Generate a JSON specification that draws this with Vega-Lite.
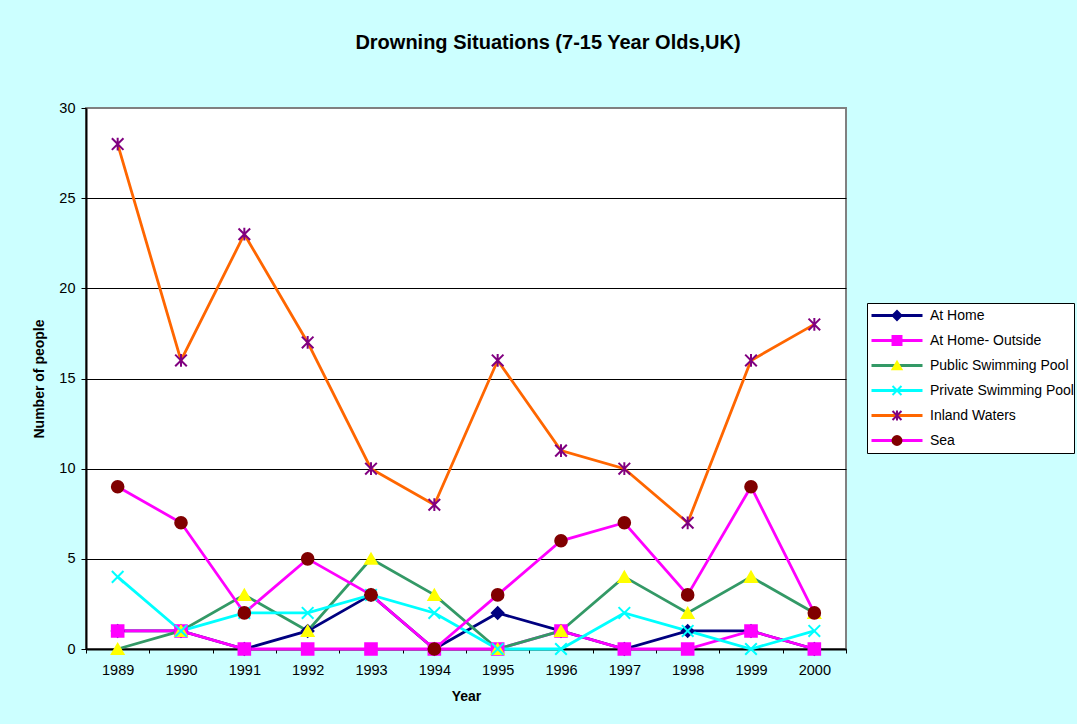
{
  "$schema": "https://vega.github.io/schema/vega-lite/v6.json",
  "autosize": {"type": "none"},
  "width": 760,
  "height": 541,
  "padding": {"left": 86, "top": 108, "right": 231, "bottom": 75},
  "background": "#CCFFFF",
  "title": {
    "text": "Drowning Situations (7-15 Year Olds,UK)",
    "font": "Liberation Sans",
    "fontSize": 20,
    "fontWeight": "bold",
    "color": "#000000",
    "anchor": "middle",
    "frame": "group",
    "dx": 82,
    "offset": 47
  },
  "config": {
    "font": "Liberation Sans",
    "view": {"fill": "#FFFFFF", "stroke": "#808080", "strokeWidth": 2},
    "legend": {"strokeWidth": 1}
  },
  "data": {
    "values": [
      {"year": "1989", "series": "At Home", "value": 1},
      {"year": "1990", "series": "At Home", "value": 1},
      {"year": "1991", "series": "At Home", "value": 0},
      {"year": "1992", "series": "At Home", "value": 1},
      {"year": "1993", "series": "At Home", "value": 3},
      {"year": "1994", "series": "At Home", "value": 0},
      {"year": "1995", "series": "At Home", "value": 2},
      {"year": "1996", "series": "At Home", "value": 1},
      {"year": "1997", "series": "At Home", "value": 0},
      {"year": "1998", "series": "At Home", "value": 1},
      {"year": "1999", "series": "At Home", "value": 1},
      {"year": "2000", "series": "At Home", "value": 0},
      {"year": "1989", "series": "At Home- Outside", "value": 1},
      {"year": "1990", "series": "At Home- Outside", "value": 1},
      {"year": "1991", "series": "At Home- Outside", "value": 0},
      {"year": "1992", "series": "At Home- Outside", "value": 0},
      {"year": "1993", "series": "At Home- Outside", "value": 0},
      {"year": "1994", "series": "At Home- Outside", "value": 0},
      {"year": "1995", "series": "At Home- Outside", "value": 0},
      {"year": "1996", "series": "At Home- Outside", "value": 1},
      {"year": "1997", "series": "At Home- Outside", "value": 0},
      {"year": "1998", "series": "At Home- Outside", "value": 0},
      {"year": "1999", "series": "At Home- Outside", "value": 1},
      {"year": "2000", "series": "At Home- Outside", "value": 0},
      {"year": "1989", "series": "Public Swimming Pool", "value": 0},
      {"year": "1990", "series": "Public Swimming Pool", "value": 1},
      {"year": "1991", "series": "Public Swimming Pool", "value": 3},
      {"year": "1992", "series": "Public Swimming Pool", "value": 1},
      {"year": "1993", "series": "Public Swimming Pool", "value": 5},
      {"year": "1994", "series": "Public Swimming Pool", "value": 3},
      {"year": "1995", "series": "Public Swimming Pool", "value": 0},
      {"year": "1996", "series": "Public Swimming Pool", "value": 1},
      {"year": "1997", "series": "Public Swimming Pool", "value": 4},
      {"year": "1998", "series": "Public Swimming Pool", "value": 2},
      {"year": "1999", "series": "Public Swimming Pool", "value": 4},
      {"year": "2000", "series": "Public Swimming Pool", "value": 2},
      {"year": "1989", "series": "Private Swimming Pool", "value": 4},
      {"year": "1990", "series": "Private Swimming Pool", "value": 1},
      {"year": "1991", "series": "Private Swimming Pool", "value": 2},
      {"year": "1992", "series": "Private Swimming Pool", "value": 2},
      {"year": "1993", "series": "Private Swimming Pool", "value": 3},
      {"year": "1994", "series": "Private Swimming Pool", "value": 2},
      {"year": "1995", "series": "Private Swimming Pool", "value": 0},
      {"year": "1996", "series": "Private Swimming Pool", "value": 0},
      {"year": "1997", "series": "Private Swimming Pool", "value": 2},
      {"year": "1998", "series": "Private Swimming Pool", "value": 1},
      {"year": "1999", "series": "Private Swimming Pool", "value": 0},
      {"year": "2000", "series": "Private Swimming Pool", "value": 1},
      {"year": "1989", "series": "Inland Waters", "value": 28},
      {"year": "1990", "series": "Inland Waters", "value": 16},
      {"year": "1991", "series": "Inland Waters", "value": 23},
      {"year": "1992", "series": "Inland Waters", "value": 17},
      {"year": "1993", "series": "Inland Waters", "value": 10},
      {"year": "1994", "series": "Inland Waters", "value": 8},
      {"year": "1995", "series": "Inland Waters", "value": 16},
      {"year": "1996", "series": "Inland Waters", "value": 11},
      {"year": "1997", "series": "Inland Waters", "value": 10},
      {"year": "1998", "series": "Inland Waters", "value": 7},
      {"year": "1999", "series": "Inland Waters", "value": 16},
      {"year": "2000", "series": "Inland Waters", "value": 18},
      {"year": "1989", "series": "Sea", "value": 9},
      {"year": "1990", "series": "Sea", "value": 7},
      {"year": "1991", "series": "Sea", "value": 2},
      {"year": "1992", "series": "Sea", "value": 5},
      {"year": "1993", "series": "Sea", "value": 3},
      {"year": "1994", "series": "Sea", "value": 0},
      {"year": "1995", "series": "Sea", "value": 3},
      {"year": "1996", "series": "Sea", "value": 6},
      {"year": "1997", "series": "Sea", "value": 7},
      {"year": "1998", "series": "Sea", "value": 3},
      {"year": "1999", "series": "Sea", "value": 9},
      {"year": "2000", "series": "Sea", "value": 2}
    ]
  },
  "encoding": {
    "x": {
      "field": "year",
      "type": "ordinal",
      "bandPosition": 0.5,
      "scale": {"type": "band", "paddingInner": 0, "paddingOuter": 0},
      "axis": {
        "title": "Year",
        "titleFont": "Liberation Sans",
        "titleFontSize": 14,
        "titleFontWeight": "bold",
        "titleColor": "#000000",
        "titlePadding": 13,
        "labelAngle": 0,
        "labelFont": "Liberation Sans",
        "labelFontSize": 14.5,
        "labelColor": "#000000",
        "labelPadding": 10,
        "tickBand": "extent",
        "tickSize": 4,
        "tickColor": "#000000",
        "domainColor": "#000000",
        "domainWidth": 2,
        "grid": false
      }
    },
    "y": {
      "field": "value",
      "type": "quantitative",
      "scale": {"domain": [0, 30], "nice": false},
      "axis": {
        "title": "Number of people",
        "titleFont": "Liberation Sans",
        "titleFontSize": 14,
        "titleFontWeight": "bold",
        "titleColor": "#000000",
        "titlePadding": 12,
        "values": [0, 5, 10, 15, 20, 25, 30],
        "labelFont": "Liberation Sans",
        "labelFontSize": 14.5,
        "labelColor": "#000000",
        "labelPadding": 6,
        "tickSize": 5,
        "tickColor": "#000000",
        "domainColor": "#000000",
        "domainWidth": 2,
        "grid": true,
        "gridColor": {"condition": {"test": "datum.value >= 30", "value": "#808080"}, "value": "#000000"},
        "gridOpacity": 1
      }
    }
  },
  "layer": [
    {
      "mark": {"type": "line", "strokeWidth": 2.8},
      "encoding": {
        "color": {
          "field": "series",
          "type": "nominal",
          "scale": {
            "domain": ["At Home", "At Home- Outside", "Public Swimming Pool", "Private Swimming Pool", "Inland Waters", "Sea"],
            "range": ["#000080", "#FF00FF", "#339966", "#00FFFF", "#FF6600", "#FF00FF"]
          },
          "legend": {
            "title": null,
            "orient": "none",
            "legendX": 781,
            "legendY": 195,
            "direction": "vertical",
            "symbolType": "M-1,0H1",
            "symbolSize": 2601,
            "symbolStrokeWidth": 3,
            "symbolOffset": 3,
            "clipHeight": 25,
            "rowPadding": 0,
            "padding": 0,
            "labelOffset": 6,
            "labelFont": "Liberation Sans",
            "labelFontSize": 14,
            "labelColor": "#000000",
            "labelLimit": 300,
            "fillColor": "#FFFFFF",
            "strokeColor": "#000000"
          }
        }
      }
    },
    {
      "mark": {"type": "point", "filled": true, "size": 135, "strokeWidth": 2, "opacity": 1},
      "encoding": {
        "fill": {
          "field": "series",
          "type": "nominal",
          "sort": null,
          "scale": {"range": ["#000080", "#FF00FF", "#FFFF00", "#00FFFF", "#800080", "#800000"]},
          "legend": {
            "title": null,
            "orient": "none",
            "legendX": 781,
            "legendY": 195,
            "direction": "vertical",
            "symbolSize": 80,
            "symbolStrokeWidth": 2,
            "symbolOffset": 23,
            "clipHeight": 25,
            "rowPadding": 0,
            "padding": 0,
            "labelExpr": "''",
            "labelFontSize": 14,
            "labelLimit": 300
          }
        },
        "stroke": {
          "field": "series",
          "type": "nominal",
          "sort": null,
          "scale": {"range": ["#000080", "#FF00FF", "#FFFF00", "#00FFFF", "#800080", "#800000"]}
        },
        "shape": {
          "field": "series",
          "type": "nominal",
          "sort": null,
          "scale": {"range": ["diamond", "square", "triangle-up", "M-1,-1L1,1M-1,1L1,-1", "M-1,-1L1,1M-1,1L1,-1M0,-1.1V1.1", "circle"]}
        }
      }
    }
  ]
}
